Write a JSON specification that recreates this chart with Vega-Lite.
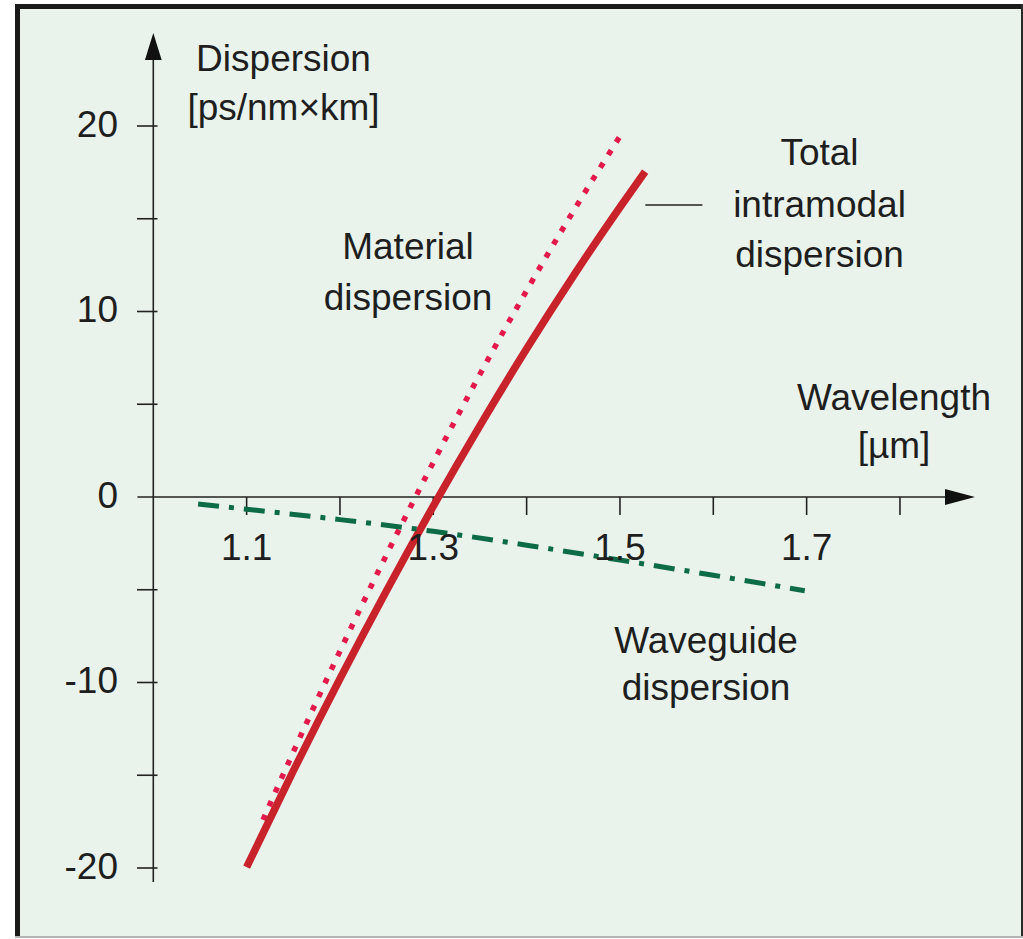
{
  "$schema": "https://vega.github.io/schema/vega-lite/v6.json",
  "width": 1008,
  "height": 934,
  "autosize": {"type": "none"},
  "padding": {"left": 15, "top": 4, "right": 0, "bottom": 1},
  "background": "white",
  "config": {
    "view": {"fill": "#e9f3ec", "stroke": null},
    "text": {"font": "Liberation Sans", "fontSize": 37, "color": "#1e1e1e"}
  },
  "datasets": {
    "frame": [
      {"x": 0.8545, "y": -23.774, "x2": 0.8545, "y2": 26.577},
      {"x": 0.85182, "y": 26.442, "x2": 1.93182, "y2": 26.442}
    ],
    "frameRight": [
      {"x": 1.93075, "y": -23.774, "x2": 1.93075, "y2": 26.577}
    ],
    "frameBottom": [
      {"x": 0.85182, "y": -23.72, "x2": 1.93182, "y2": -23.72}
    ],
    "rules": [
      {"x": 1.0, "y": -20.75, "x2": 1.0, "y2": 23.6},
      {"x": 0.983, "y": 0, "x2": 1.849, "y2": 0},
      {"x": 0.9825, "y": 20, "x2": 1.0045, "y2": 20},
      {"x": 0.9825, "y": 15, "x2": 1.0045, "y2": 15},
      {"x": 0.9825, "y": 10, "x2": 1.0045, "y2": 10},
      {"x": 0.9825, "y": 5, "x2": 1.0045, "y2": 5},
      {"x": 0.9825, "y": -5, "x2": 1.0045, "y2": -5},
      {"x": 0.9825, "y": -10, "x2": 1.0045, "y2": -10},
      {"x": 0.9825, "y": -15, "x2": 1.0045, "y2": -15},
      {"x": 0.9825, "y": -20, "x2": 1.0045, "y2": -20},
      {"x": 1.1, "y": 0, "x2": 1.1, "y2": -0.97},
      {"x": 1.2, "y": 0, "x2": 1.2, "y2": -0.97},
      {"x": 1.3, "y": 0, "x2": 1.3, "y2": -0.97},
      {"x": 1.4, "y": 0, "x2": 1.4, "y2": -0.97},
      {"x": 1.5, "y": 0, "x2": 1.5, "y2": -0.97},
      {"x": 1.6, "y": 0, "x2": 1.6, "y2": -0.97},
      {"x": 1.7, "y": 0, "x2": 1.7, "y2": -0.97},
      {"x": 1.8, "y": 0, "x2": 1.8, "y2": -0.97},
      {"x": 1.5272, "y": 15.74, "x2": 1.5883, "y2": 15.74}
    ],
    "arrowUp": [{"x": 1.0, "y": 24.29}],
    "arrowRight": [{"x": 1.8643, "y": 0}],
    "material": [
      {"x": 1.1175, "y": -17.41},
      {"x": 1.15, "y": -13.75},
      {"x": 1.2, "y": -8.31},
      {"x": 1.25, "y": -3.10},
      {"x": 1.3, "y": 1.87},
      {"x": 1.35, "y": 6.62},
      {"x": 1.4, "y": 11.13},
      {"x": 1.45, "y": 15.40},
      {"x": 1.5022, "y": 19.62}
    ],
    "total": [
      {"x": 1.1, "y": -19.95},
      {"x": 1.15, "y": -14.77},
      {"x": 1.2, "y": -9.80},
      {"x": 1.25, "y": -5.04},
      {"x": 1.3, "y": -0.49},
      {"x": 1.35, "y": 3.85},
      {"x": 1.4, "y": 7.99},
      {"x": 1.45, "y": 11.91},
      {"x": 1.5, "y": 15.62},
      {"x": 1.527, "y": 17.54}
    ],
    "waveguide": [
      {"x": 1.048, "y": -0.38},
      {"x": 1.1, "y": -0.66},
      {"x": 1.2, "y": -1.22},
      {"x": 1.3, "y": -1.85},
      {"x": 1.4, "y": -2.60},
      {"x": 1.5, "y": -3.40},
      {"x": 1.6, "y": -4.22},
      {"x": 1.698, "y": -5.05}
    ],
    "ylabels": [
      {"x": 0.9622, "y": 20, "text": "20"},
      {"x": 0.9622, "y": 10, "text": "10"},
      {"x": 0.9622, "y": 0, "text": "0"},
      {"x": 0.9622, "y": -10, "text": "-10"},
      {"x": 0.9622, "y": -20, "text": "-20"}
    ],
    "xlabels": [
      {"x": 1.1, "y": -3.40, "text": "1.1"},
      {"x": 1.3, "y": -3.40, "text": "1.3"},
      {"x": 1.5, "y": -3.40, "text": "1.5"},
      {"x": 1.7, "y": -3.40, "text": "1.7"}
    ],
    "notes": [
      {"x": 1.1395, "y": 22.96, "text": "Dispersion"},
      {"x": 1.1395, "y": 20.32, "text": "[ps/nm×km]"},
      {"x": 1.2729, "y": 12.83, "text": "Material"},
      {"x": 1.2729, "y": 10.08, "text": "dispersion"},
      {"x": 1.7138, "y": 17.90, "text": "Total"},
      {"x": 1.7138, "y": 15.09, "text": "intramodal"},
      {"x": 1.7138, "y": 12.40, "text": "dispersion"},
      {"x": 1.7936, "y": 4.69, "text": "Wavelength"},
      {"x": 1.7936, "y": 2.10, "text": "[µm]"},
      {"x": 1.5922, "y": -8.41, "text": "Waveguide"},
      {"x": 1.5922, "y": -10.94, "text": "dispersion"}
    ]
  },
  "layer": [
    {
      "data": {"name": "frame"},
      "mark": {"type": "rule", "strokeWidth": 5, "color": "#1a1a1a"},
      "encoding": {
        "x": {"field": "x", "type": "quantitative", "axis": null, "scale": {"domain": [0.85182, 1.93182], "nice": false, "zero": false}},
        "y": {"field": "y", "type": "quantitative", "axis": null, "scale": {"domain": [-23.774, 26.577], "nice": false, "zero": false}},
        "x2": {"field": "x2"},
        "y2": {"field": "y2"}
      }
    },
    {
      "data": {"name": "frameRight"},
      "mark": {"type": "rule", "strokeWidth": 2, "color": "#2a2a2a"},
      "encoding": {
        "x": {"field": "x", "type": "quantitative", "axis": null},
        "y": {"field": "y", "type": "quantitative", "axis": null},
        "x2": {"field": "x2"},
        "y2": {"field": "y2"}
      }
    },
    {
      "data": {"name": "frameBottom"},
      "mark": {"type": "rule", "strokeWidth": 2, "color": "#b4b4b4"},
      "encoding": {
        "x": {"field": "x", "type": "quantitative", "axis": null},
        "y": {"field": "y", "type": "quantitative", "axis": null},
        "x2": {"field": "x2"},
        "y2": {"field": "y2"}
      }
    },
    {
      "data": {"name": "rules"},
      "mark": {"type": "rule", "strokeWidth": 1.6, "color": "#222222"},
      "encoding": {
        "x": {"field": "x", "type": "quantitative", "axis": null},
        "y": {"field": "y", "type": "quantitative", "axis": null},
        "x2": {"field": "x2"},
        "y2": {"field": "y2"}
      }
    },
    {
      "data": {"name": "arrowUp"},
      "mark": {"type": "point", "shape": "M0,-1L0.62,1L-0.62,1Z", "size": 729, "filled": true, "color": "#111111", "opacity": 1, "strokeWidth": 0},
      "encoding": {
        "x": {"field": "x", "type": "quantitative", "axis": null},
        "y": {"field": "y", "type": "quantitative", "axis": null}
      }
    },
    {
      "data": {"name": "arrowRight"},
      "mark": {"type": "point", "shape": "M1,0L-1,-0.53L-1,0.53Z", "size": 900, "filled": true, "color": "#111111", "opacity": 1, "strokeWidth": 0},
      "encoding": {
        "x": {"field": "x", "type": "quantitative", "axis": null},
        "y": {"field": "y", "type": "quantitative", "axis": null}
      }
    },
    {
      "data": {"name": "material"},
      "mark": {"type": "line", "interpolate": "monotone", "color": "#e3194b", "strokeWidth": 5.5, "strokeDash": [5.5, 9.5], "strokeCap": "butt"},
      "encoding": {
        "x": {"field": "x", "type": "quantitative", "axis": null},
        "y": {"field": "y", "type": "quantitative", "axis": null}
      }
    },
    {
      "data": {"name": "total"},
      "mark": {"type": "line", "interpolate": "monotone", "color": "#c8222b", "strokeWidth": 7.5, "strokeCap": "butt"},
      "encoding": {
        "x": {"field": "x", "type": "quantitative", "axis": null},
        "y": {"field": "y", "type": "quantitative", "axis": null}
      }
    },
    {
      "data": {"name": "waveguide"},
      "mark": {"type": "line", "interpolate": "monotone", "color": "#0d6b45", "strokeWidth": 5, "strokeDash": [21, 10, 5, 10], "strokeCap": "butt"},
      "encoding": {
        "x": {"field": "x", "type": "quantitative", "axis": null},
        "y": {"field": "y", "type": "quantitative", "axis": null}
      }
    },
    {
      "data": {"name": "ylabels"},
      "mark": {"type": "text", "align": "right", "baseline": "middle"},
      "encoding": {
        "x": {"field": "x", "type": "quantitative", "axis": null},
        "y": {"field": "y", "type": "quantitative", "axis": null},
        "text": {"field": "text"}
      }
    },
    {
      "data": {"name": "xlabels"},
      "mark": {"type": "text", "align": "center", "baseline": "alphabetic"},
      "encoding": {
        "x": {"field": "x", "type": "quantitative", "axis": null},
        "y": {"field": "y", "type": "quantitative", "axis": null},
        "text": {"field": "text"}
      }
    },
    {
      "data": {"name": "notes"},
      "mark": {"type": "text", "align": "center", "baseline": "alphabetic"},
      "encoding": {
        "x": {"field": "x", "type": "quantitative", "axis": null},
        "y": {"field": "y", "type": "quantitative", "axis": null},
        "text": {"field": "text"}
      }
    }
  ]
}
